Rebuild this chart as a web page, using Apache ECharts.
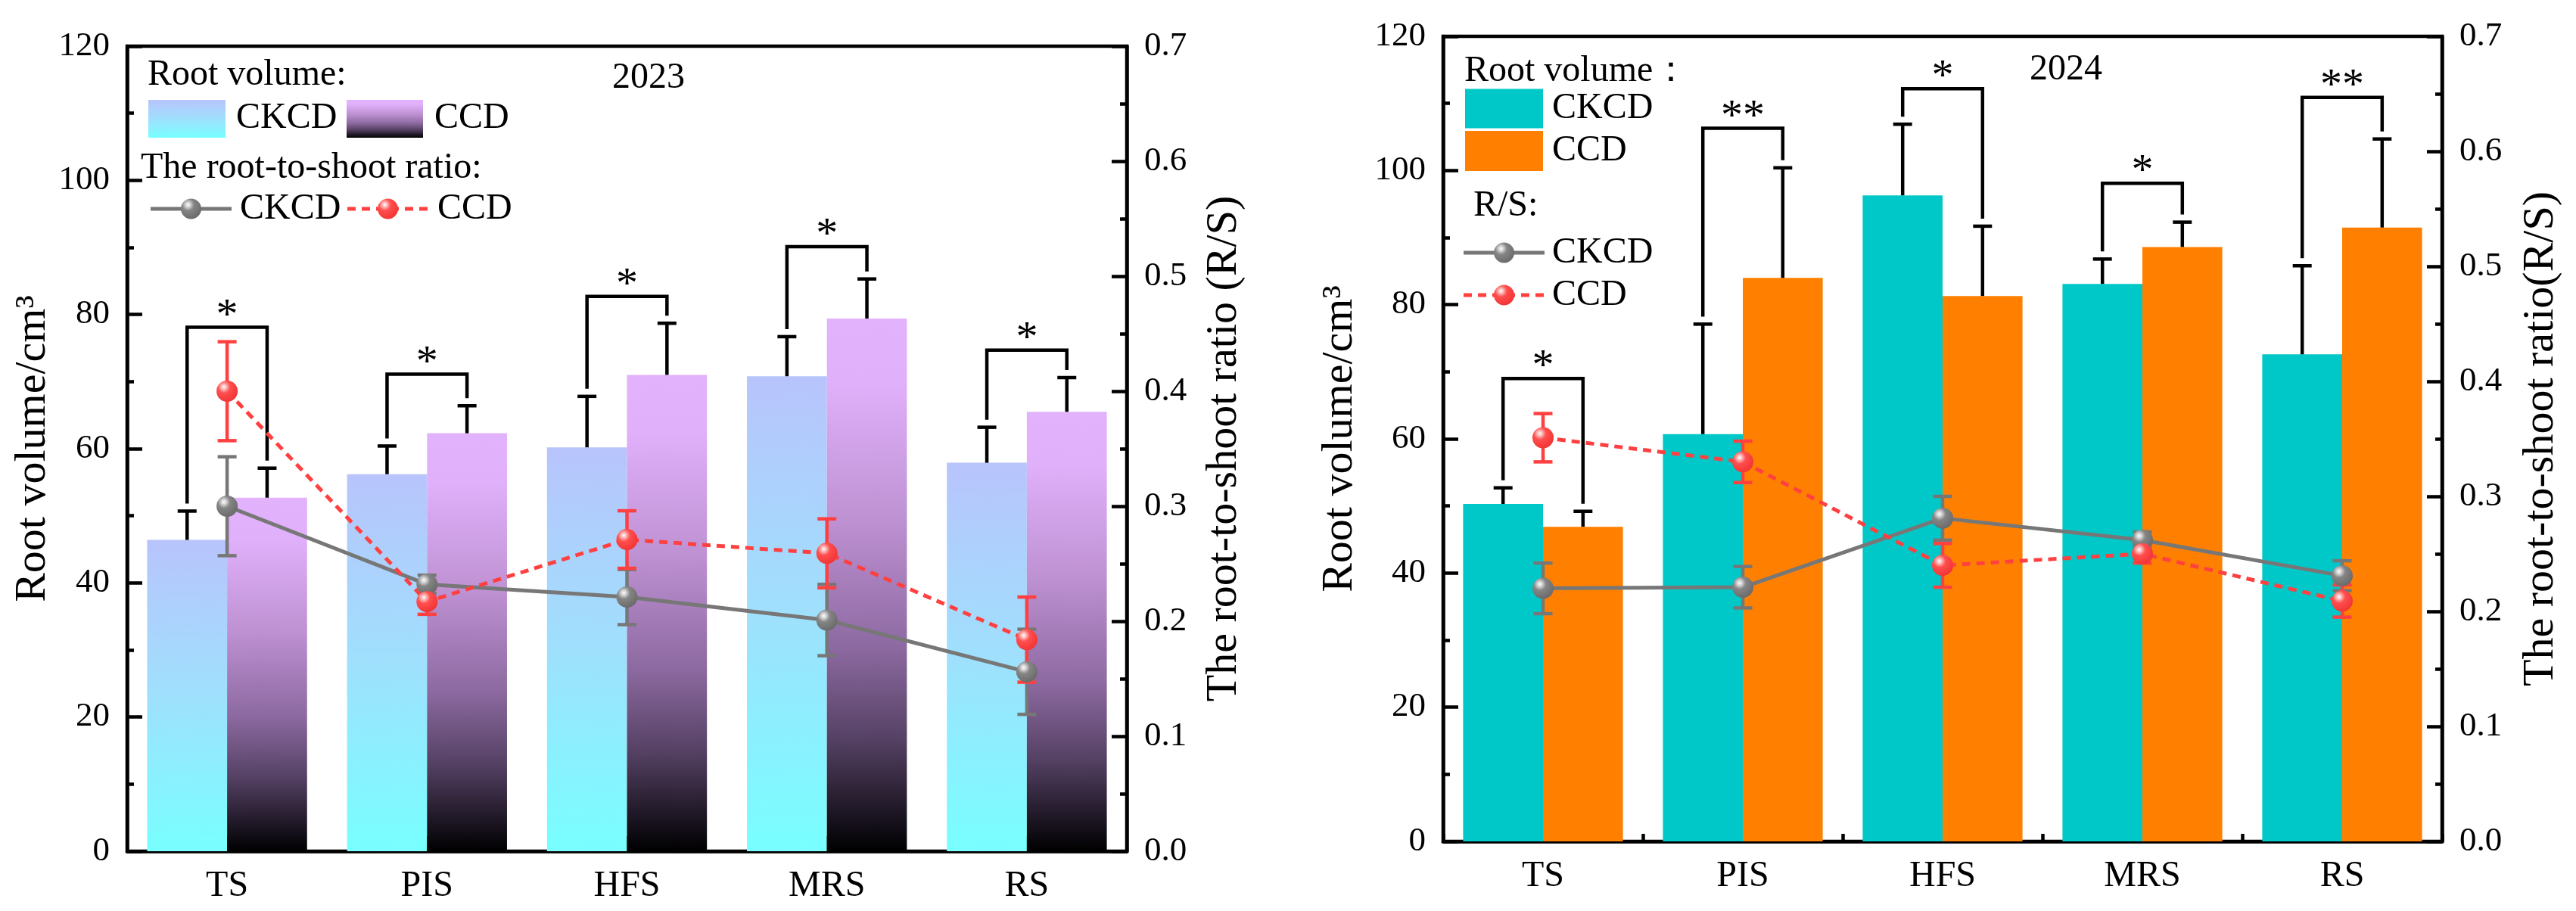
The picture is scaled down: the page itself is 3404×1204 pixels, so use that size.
<!DOCTYPE html>
<html><head><meta charset="utf-8">
<script src="https://cdn.jsdelivr.net/npm/echarts/dist/echarts.min.js"></script>
<style>html,body{margin:0;padding:0;background:#fff}#c{width:3404px;height:1204px}</style>
</head><body><div id="c"></div>
<script>
// ---------------- data ----------------
const categories = ['TS', 'PIS', 'HFS', 'MRS', 'RS'];
const volTicks = [0, 20, 40, 60, 80, 100, 120];
const ratioTicks = [0.0, 0.1, 0.2, 0.3, 0.4, 0.5, 0.6, 0.7];

// 2023
const vol2023CKCD = [46.4, 56.2, 60.2, 70.8, 57.9];
const vol2023CKCDErr = [4.3, 4.2, 7.6, 5.9, 5.3];
const vol2023CCD = [52.7, 62.3, 71.0, 79.4, 65.5];
const vol2023CCDErr = [4.4, 4.1, 7.7, 5.9, 5.1];
const rs2023CKCD = [0.300, 0.232, 0.221, 0.201, 0.156];
const rs2023CKCDErr = [0.043, 0.008, 0.024, 0.031, 0.037];
const rs2023CCD = [0.400, 0.217, 0.271, 0.259, 0.184];
const rs2023CCDErr = [0.043, 0.011, 0.025, 0.030, 0.037];
const sig2023Height = [78.1, 71.1, 82.7, 90.1, 74.7];
const sig2023Label = ['*', '*', '*', '*', '*'];

// 2024
const vol2024CKCD = [50.3, 60.7, 96.3, 83.1, 72.6];
const vol2024CKCDErr = [2.4, 16.4, 10.6, 3.7, 13.2];
const vol2024CCD = [46.9, 84.0, 81.3, 88.6, 91.5];
const vol2024CCDErr = [2.3, 16.4, 10.4, 3.7, 13.2];
const rs2024CKCD = [0.220, 0.221, 0.281, 0.262, 0.231];
const rs2024CKCDErr = [0.022, 0.018, 0.019, 0.007, 0.013];
const rs2024CCD = [0.351, 0.330, 0.240, 0.250, 0.209];
const rs2024CCDErr = [0.021, 0.018, 0.019, 0.008, 0.014];
const sig2024Height = [69.0, 106.3, 112.2, 98.1, 110.9];
const sig2024Label = ['*', '**', '*', '*', '**'];

// ---------------- styles ----------------
const FONT = '"Liberation Serif", "Times New Roman", serif';
const AXW = 4.5;
const G = echarts.graphic;
const gradCK = () => new G.LinearGradient(0, 0, 0, 1, [
  {offset: 0, color: '#b8c4fc'}, {offset: 0.5, color: '#9fe0fd'}, {offset: 1, color: '#78ffff'}]);
const gradCCD = () => new G.LinearGradient(0, 0, 0, 1, [
  {offset: 0, color: '#e2b2fc'}, {offset: 0.12, color: '#e0b0fa'}, {offset: 0.38, color: '#be91d2'},
  {offset: 0.62, color: '#8c69a0'}, {offset: 0.79, color: '#554164'}, {offset: 0.95, color: '#140f19'},
  {offset: 1, color: '#000000'}]);
const GRAY = '#777777', RED = '#ff4040';
const ballGray = () => new G.RadialGradient(0.35, 0.3, 0.7, [
  {offset: 0, color: '#ffffff'}, {offset: 0.18, color: '#d0d0d0'}, {offset: 0.42, color: '#858585'}, {offset: 1, color: '#6c6c6c'}]);
const ballRed = () => new G.RadialGradient(0.35, 0.3, 0.7, [
  {offset: 0, color: '#ffffff'}, {offset: 0.18, color: '#ffb4b4'}, {offset: 0.42, color: '#ff4e4e'}, {offset: 1, color: '#f23636'}]);
const DASH = [11, 8];

const chart = echarts.init(document.getElementById('c'));

function xAxisCfg(gridIndex, boundaryTicks) {
  if (boundaryTicks) {
    return {type: 'category', gridIndex, data: categories, position: 'bottom',
      axisLine: {show: false}, axisLabel: {show: false}, splitLine: {show: false},
      axisTick: {show: true, inside: true, length: 10, interval: 0, alignWithLabel: false,
        lineStyle: {color: '#000', width: AXW}}};
  }
  return {type: 'category', gridIndex, data: categories, position: 'bottom',
    axisLine: {show: true, lineStyle: {color: '#000', width: AXW}},
    axisTick: {show: true, inside: true, length: 20, alignWithLabel: true, interval: 0,
      lineStyle: {color: '#000', width: AXW}},
    axisLabel: {color: '#000', fontFamily: FONT, fontSize: 48, margin: 22, interval: 0},
    splitLine: {show: false}};
}
function yAxisCfg(gridIndex, position, ticks, name, nameGap, decimals) {
  return {type: 'value', gridIndex, position, min: ticks[0], max: ticks[ticks.length - 1],
    interval: ticks[1] - ticks[0], name, nameLocation: 'middle', nameGap,
    nameTextStyle: {color: '#000', fontFamily: FONT, fontSize: 58},
    axisLine: {show: true, lineStyle: {color: '#000', width: AXW}},
    axisTick: {show: true, inside: true, length: 20, lineStyle: {color: '#000', width: AXW}},
    minorTick: {show: true, splitNumber: 2, length: 9, lineStyle: {color: '#000', width: AXW}},
    axisLabel: {color: '#000', fontFamily: FONT, fontSize: 45, margin: 23,
      formatter: v => v.toFixed(decimals)},
    splitLine: {show: false}, minorSplitLine: {show: false}};
}

function barErr(xi, yi, vals, errs, side) {
  return {type: 'custom', xAxisIndex: xi, yAxisIndex: yi, z: 3, silent: true,
    data: vals.map((v, i) => [i, v, errs[i]]),
    renderItem(params, api) {
      const i = api.value(0), v = api.value(1), e = api.value(2);
      const bw = api.size([1, 0])[0];
      const p0 = api.coord([i, v]), p1 = api.coord([i, v + e]);
      const x = p0[0] + side * bw * 0.2;
      const st = {stroke: '#000', lineWidth: AXW};
      return {type: 'group', children: [
        {type: 'line', shape: {x1: x, y1: p0[1], x2: x, y2: p1[1]}, style: st},
        {type: 'line', shape: {x1: x - 12.5, y1: p1[1], x2: x + 12.5, y2: p1[1]}, style: st}]};
    }};
}
function lineErr(xi, yi, vals, errs, color) {
  return {type: 'custom', xAxisIndex: xi, yAxisIndex: yi, z: 5, silent: true,
    data: vals.map((v, i) => [i, v, errs[i]]),
    renderItem(params, api) {
      const i = api.value(0), v = api.value(1), e = api.value(2);
      const a = api.coord([i, v + e]), b = api.coord([i, v - e]);
      const x = a[0];
      const st = {stroke: color, lineWidth: 4.5};
      return {type: 'group', children: [
        {type: 'line', shape: {x1: x, y1: a[1], x2: x, y2: b[1]}, style: st},
        {type: 'line', shape: {x1: x - 12.5, y1: a[1], x2: x + 12.5, y2: a[1]}, style: st},
        {type: 'line', shape: {x1: x - 12.5, y1: b[1], x2: x + 12.5, y2: b[1]}, style: st}]};
    }};
}
function brackets(xi, yi, heights, labels, lv, le, rv, re) {
  return {type: 'custom', xAxisIndex: xi, yAxisIndex: yi, z: 3, silent: true,
    data: heights.map((h, i) => [i, h, lv[i] + le[i], rv[i] + re[i]]),
    renderItem(params, api) {
      const i = api.value(0);
      const bw = api.size([1, 0])[0];
      const c = api.coord([i, api.value(1)]);
      const xL = c[0] - bw * 0.2, xR = c[0] + bw * 0.2;
      const yB = c[1];
      const yL = api.coord([i, api.value(2)])[1] - 10;
      const yR = api.coord([i, api.value(3)])[1] - 10;
      return {type: 'group', children: [
        {type: 'polyline', shape: {points: [[xL, yL], [xL, yB], [xR, yB], [xR, yR]]},
          style: {stroke: '#000', lineWidth: AXW, fill: null, lineJoin: 'miter'}},
        {type: 'text', style: {text: labels[params.dataIndex], x: c[0], y: yB - 14,
          font: '58px ' + FONT, fill: '#000', align: 'center', verticalAlign: 'middle'}}]};
    }};
}
function lineSeries(xi, yi, vals, color, dashed, ball) {
  return {type: 'line', xAxisIndex: xi, yAxisIndex: yi, z: 6, silent: true, data: vals,
    symbol: 'circle', symbolSize: 28, showSymbol: true,
    lineStyle: {color, width: 5, type: dashed ? DASH : 'solid'},
    itemStyle: {color: ball(), borderWidth: 0}};
}

const series = [
  // 2023
  {type: 'bar', xAxisIndex: 0, yAxisIndex: 0, data: vol2023CKCD, barWidth: '40%', barGap: '0%', z: 2,
    silent: true, itemStyle: {color: gradCK()}},
  {type: 'bar', xAxisIndex: 0, yAxisIndex: 0, data: vol2023CCD, barWidth: '40%', barGap: '0%', z: 2,
    silent: true, itemStyle: {color: gradCCD()}},
  barErr(0, 0, vol2023CKCD, vol2023CKCDErr, -1),
  barErr(0, 0, vol2023CCD, vol2023CCDErr, 1),
  brackets(0, 0, sig2023Height, sig2023Label, vol2023CKCD, vol2023CKCDErr, vol2023CCD, vol2023CCDErr),
  lineErr(0, 1, rs2023CKCD, rs2023CKCDErr, GRAY),
  lineSeries(0, 1, rs2023CKCD, GRAY, false, ballGray),
  lineErr(0, 1, rs2023CCD, rs2023CCDErr, RED),
  lineSeries(0, 1, rs2023CCD, RED, true, ballRed),
  // 2024
  {type: 'bar', xAxisIndex: 1, yAxisIndex: 2, data: vol2024CKCD, barWidth: '40%', barGap: '0%', z: 2,
    silent: true, itemStyle: {color: '#00c8c8'}},
  {type: 'bar', xAxisIndex: 1, yAxisIndex: 2, data: vol2024CCD, barWidth: '40%', barGap: '0%', z: 2,
    silent: true, itemStyle: {color: '#ff8000'}},
  barErr(1, 2, vol2024CKCD, vol2024CKCDErr, -1),
  barErr(1, 2, vol2024CCD, vol2024CCDErr, 1),
  brackets(1, 2, sig2024Height, sig2024Label, vol2024CKCD, vol2024CKCDErr, vol2024CCD, vol2024CCDErr),
  lineErr(1, 3, rs2024CKCD, rs2024CKCDErr, GRAY),
  lineSeries(1, 3, rs2024CKCD, GRAY, false, ballGray),
  lineErr(1, 3, rs2024CCD, rs2024CCDErr, RED),
  lineSeries(1, 3, rs2024CCD, RED, true, ballRed)
];

// legend graphics
function txt(text, x, y, align) {
  return {type: 'text', x, y, z: 20, silent: true,
    style: {text, font: '48px ' + FONT, fill: '#000', align: align || 'left', verticalAlign: 'middle'}};
}
function swatch(x, y, w, h, fill) {
  return {type: 'rect', z: 20, silent: true, shape: {x, y, width: w, height: h}, style: {fill}};
}
function legLine(x1, x2, y, color, dashed, ball) {
  const cx = (x1 + x2) / 2;
  return [
    {type: 'line', z: 20, silent: true, shape: {x1, y1: y, x2, y2: y},
      style: {stroke: color, lineWidth: 5, lineDash: dashed ? DASH : null}},
    {type: 'circle', z: 21, silent: true, shape: {cx, cy: y, r: 13.5}, style: {fill: ball()}}];
}
const graphics = [
  txt('Root volume:', 195, 99),
  swatch(196, 132, 102, 50, gradCK()), txt('CKCD', 312, 156),
  swatch(458, 132, 101, 50, gradCCD()), txt('CCD', 574, 156),
  txt('The root-to-shoot ratio:', 186, 222),
  ...legLine(199, 306, 276, GRAY, false, ballGray), txt('CKCD', 317, 276),
  ...legLine(459, 566, 276, RED, true, ballRed), txt('CCD', 578, 276),
  txt('2023', 857, 103, 'center'),

  txt('Root volume：', 1935, 94),
  swatch(1936, 117.5, 103, 52, '#00c8c8'), txt('CKCD', 2051, 143),
  swatch(1936, 173, 103, 53, '#ff8000'), txt('CCD', 2051, 199),
  txt('R/S:', 1947, 272),
  ...legLine(1934, 2041, 334, GRAY, false, ballGray), txt('CKCD', 2051, 334),
  ...legLine(1934, 2041, 390, RED, true, ballRed), txt('CCD', 2051, 390),
  txt('2024', 2730, 92, 'center')
];

chart.setOption({
  animation: false,
  backgroundColor: '#ffffff',
  grid: [
    {left: 168, top: 61, width: 1321, height: 1064, show: true, borderColor: '#000', borderWidth: AXW, backgroundColor: 'transparent'},
    {left: 1907, top: 48, width: 1320, height: 1064, show: true, borderColor: '#000', borderWidth: AXW, backgroundColor: 'transparent'}
  ],
  xAxis: [xAxisCfg(0, false), xAxisCfg(1, false), xAxisCfg(1, true)],
  yAxis: [
    yAxisCfg(0, 'left', volTicks, 'Root volume/cm³', 95, 0),
    yAxisCfg(0, 'right', ratioTicks, 'The root-to-shoot ratio (R/S)', 100, 1),
    yAxisCfg(1, 'left', volTicks, 'Root volume/cm³', 107, 0),
    yAxisCfg(1, 'right', ratioTicks, 'The root-to-shoot ratio(R/S)', 102, 1)
  ],
  series,
  graphic: graphics
});
</script></body></html>
